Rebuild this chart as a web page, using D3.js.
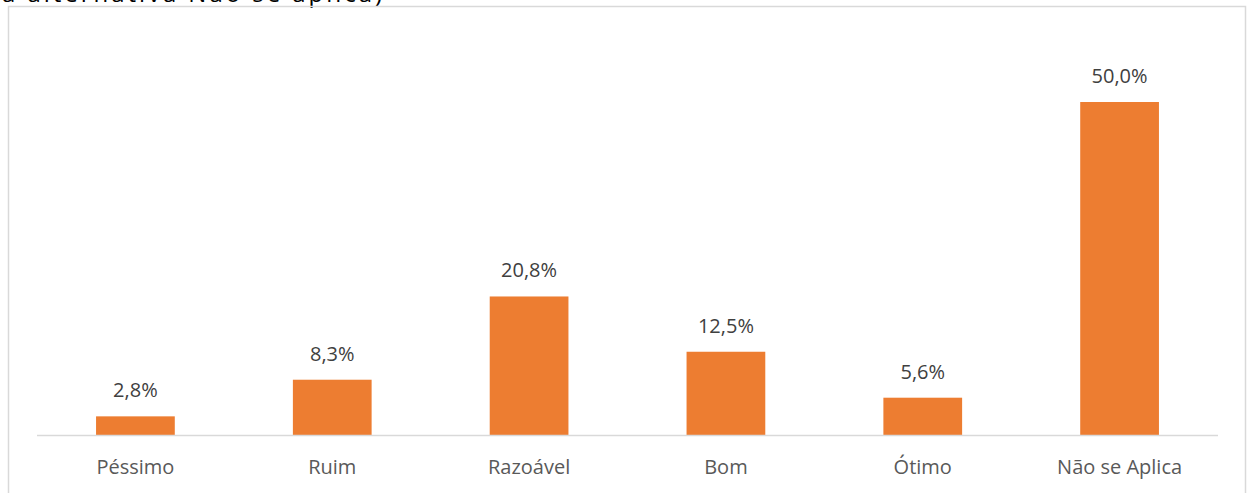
<!DOCTYPE html>
<html><head><meta charset="utf-8">
<script src="https://cdn.jsdelivr.net/npm/d3@7"></script>
<style>body{margin:0;background:#fff;}svg{display:block;}</style>
</head><body>
<script>
const categories = ["Péssimo","Ruim","Razoável","Bom","Ótimo","Não se Aplica"];
const values = [2.8, 8.3, 20.8, 12.5, 5.6, 50.0];
const valueLabels = ["2,8%","8,3%","20,8%","12,5%","5,6%","50,0%"];
const captionText = "a alternativa Não se aplica)";

const W = 1248, H = 493;
const svg = d3.select("body").append("svg").attr("width", W).attr("height", H);
const font = "'Open Sans', sans-serif";

// caption above the chart, cut off at the top edge as in the reference
svg.append("text").attr("x", 2).attr("y", 2).attr("font-family", font)
  .attr("font-size", 24).attr("fill", "#000")
  .attr("textLength", 380).attr("lengthAdjust", "spacing")
  .text(captionText);

// chart border
svg.append("rect").attr("x", 8.5).attr("y", 6.5).attr("width", 1237).attr("height", 500)
  .attr("fill", "none").attr("stroke", "#d9d9d9").attr("stroke-width", 1.5);

const x = d3.scaleBand().domain(categories).range([37, 1218]).paddingInner(0.6).paddingOuter(0.3);
const y = d3.scaleLinear().domain([0, 50]).range([435, 102]);

svg.selectAll("rect.bar").data(values).join("rect").attr("class", "bar")
  .attr("x", (d, i) => x(categories[i])).attr("width", x.bandwidth())
  .attr("y", d => y(d)).attr("height", d => y(0) - y(d)).attr("fill", "#ED7D31");

svg.append("line").attr("x1", 37).attr("x2", 1218).attr("y1", 435.5).attr("y2", 435.5)
  .attr("stroke", "#d9d9d9").attr("stroke-width", 1.5);

svg.selectAll("text.val").data(values).join("text").attr("class", "val")
  .attr("x", (d, i) => x(categories[i]) + x.bandwidth() / 2).attr("y", d => y(d) - 19)
  .attr("text-anchor", "middle").attr("font-family", font).attr("font-size", 20)
  .attr("fill", "#404040").text((d, i) => valueLabels[i]);

const xAxis = d3.axisBottom(x).tickSize(0).tickPadding(0);
const g = svg.append("g").attr("transform", "translate(0,435)").call(xAxis);
g.select(".domain").remove();
g.selectAll("text").attr("dy", null).attr("y", 39).attr("font-family", font)
  .attr("font-size", 20).attr("fill", "#595959");
</script>
</body></html>
